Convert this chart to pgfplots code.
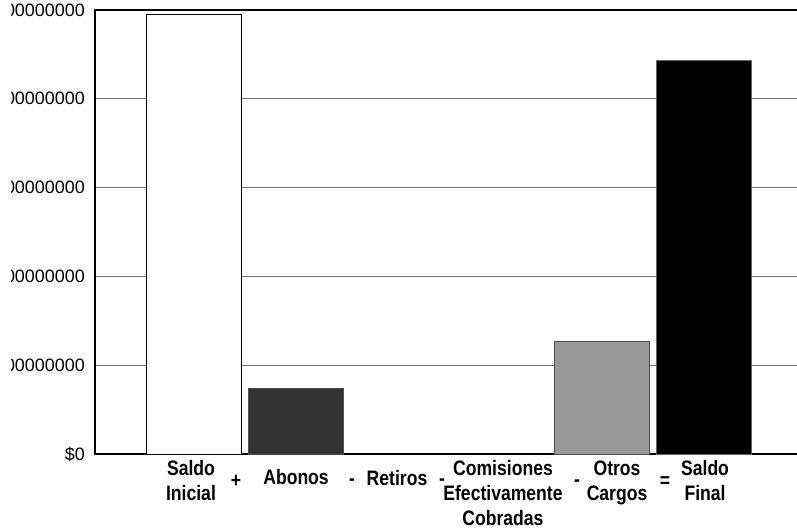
\documentclass[border=0pt]{standalone}
\usepackage{fontspec}
\setmainfont{Liberation Sans}
\newfontfamily\lblfont{Liberation Sans}[FakeStretch=0.84]
\usepackage{pgfplots}
\pgfplotsset{compat=1.18}
\begin{document}
\begin{tikzpicture}[x=1bp,y=1bp,
    lbl/.style={font=\lblfont\bfseries\fontsize{21}{25}\selectfont, align=center, anchor=center, inner sep=0pt}]
\begin{axis}[
    at={(95bp,77bp)}, anchor=south west,
    scale only axis, width=705bp, height=444bp,
    xmin=-0.966, xmax=5.946, ymin=0, ymax=5e8,
    ybar, bar width=0.93, bar shift=0pt,
    axis line style={black, line width=1.5bp},
    xtick=\empty,
    ytick={0,1e8,2e8,3e8,4e8,5e8},
    yticklabels={\$0,\$100000000,\$200000000,\$300000000,\$400000000,\$500000000},
    ymajorgrids, major grid style={black!55, line width=1bp},
    major tick length=0pt,
    yticklabel style={font=\fontsize{18}{20}\selectfont, inner sep=0pt, xshift=-10bp},
    clip=false,
]
% Saldo Inicial, Abonos, Otros Cargos, Saldo Final (Retiros y Comisiones = 0)
\addplot[fill=white, draw=black, line width=0.8bp] coordinates {(0,4.955e8)};
\addplot[fill=black!80, draw=black!70, line width=0.8bp] coordinates {(1,0.743e8)};
\addplot[fill=black!40, draw=black!70, line width=0.8bp] coordinates {(4,1.273e8)};
\addplot[fill=black, draw=black!60, line width=0.8bp] coordinates {(5,4.437e8)};

\node[lbl, yshift=-26.3bp] at (axis cs:-0.025,0) {Saldo\\Inicial};
\node[lbl, yshift=-27bp]   at (axis cs:0.417,0) {+};
\node[lbl, yshift=-23.5bp] at (axis cs:1.005,0) {Abonos};
\node[lbl, yshift=-28.4bp] at (axis cs:1.554,0) {-};
\node[lbl, yshift=-24.5bp] at (axis cs:1.995,0) {Retiros};
\node[lbl, yshift=-28.4bp] at (axis cs:2.436,0) {-};
\node[lbl, yshift=-38.7bp] at (axis cs:3.034,0) {Comisiones\\Efectivamente\\Cobradas};
\node[lbl, yshift=-29.4bp] at (axis cs:3.760,0) {-};
\node[lbl, yshift=-28.5bp] at (axis cs:4.152,0) {Otros\\Cargos};
\node[lbl, yshift=-28bp]   at (axis cs:4.623,0) {=};
\node[lbl, yshift=-26.3bp] at (axis cs:5.015,0) {Saldo\\Final};
\end{axis}
% the reference is cropped on the left: the tick labels are cut off there
\fill[white] (0,0) rectangle (11,531);
\pgfresetboundingbox
\path[use as bounding box] (0,0) rectangle (797,531);
\end{tikzpicture}
\end{document}
